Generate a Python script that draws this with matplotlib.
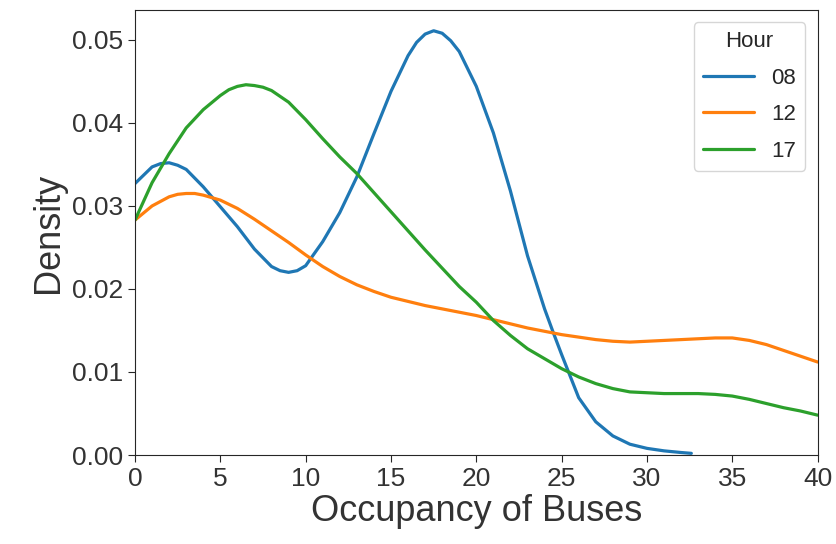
import matplotlib
matplotlib.use('Agg')
import matplotlib.pyplot as plt
import seaborn as sns

# Density curves (occupancy vs density)
hours = ['08', '12', '17']

occ_08 = [0, 1, 1.5, 2, 2.5, 3, 4, 5, 6, 7, 8, 8.5, 9, 9.5, 10, 11, 12, 13, 14, 15, 16,
          16.5, 17, 17.5, 18, 18.5, 19, 20, 21, 22, 23, 24, 24.5, 25, 25.5, 26, 27, 28, 29,
          30, 31, 32, 32.6]
dens_08 = [0.0327, 0.0347, 0.0351, 0.0352, 0.0349, 0.0344, 0.0323, 0.0299, 0.0275, 0.0248,
           0.0227, 0.0222, 0.0220, 0.0222, 0.0228, 0.0257, 0.0292, 0.0335, 0.0387, 0.0438,
           0.0481, 0.0497, 0.0507, 0.0511, 0.0508, 0.0499, 0.0486, 0.0444, 0.0388, 0.0318,
           0.0240, 0.0176, 0.0148, 0.0121, 0.0095, 0.0069, 0.0040, 0.0023, 0.0013, 0.0008,
           0.0005, 0.0003, 0.0002]

occ_12 = [0, 1, 2, 2.5, 3, 3.5, 4, 5, 6, 7, 8, 9, 10, 11, 12, 13, 14, 15, 16, 17, 18, 19,
          20, 21, 22, 23, 24, 25, 26, 27, 28, 29, 30, 31, 32, 33, 34, 35, 36, 37, 38, 39, 40]
dens_12 = [0.0283, 0.0300, 0.0311, 0.0314, 0.0315, 0.0315, 0.0313, 0.0307, 0.0297, 0.0284,
           0.0270, 0.0256, 0.0241, 0.0227, 0.0215, 0.0205, 0.0197, 0.0190, 0.0185, 0.0180,
           0.0176, 0.0172, 0.0168, 0.0163, 0.0158, 0.0153, 0.0149, 0.0145, 0.0142, 0.0139,
           0.0137, 0.0136, 0.0137, 0.0138, 0.0139, 0.0140, 0.0141, 0.0141, 0.0138, 0.0133,
           0.0126, 0.0119, 0.0112]

occ_17 = [0, 1, 2, 3, 4, 5, 5.5, 6, 6.5, 7, 7.5, 8, 9, 10, 11, 12, 13, 14, 15, 16, 17, 18,
          19, 20, 21, 22, 23, 24, 25, 26, 27, 28, 29, 30, 31, 32, 33, 34, 35, 36, 37, 38, 39,
          40]
dens_17 = [0.0283, 0.0328, 0.0363, 0.0394, 0.0416, 0.0433, 0.0440, 0.0444, 0.0446, 0.0445,
           0.0443, 0.0439, 0.0425, 0.0404, 0.0381, 0.0359, 0.0339, 0.0316, 0.0293, 0.0270,
           0.0247, 0.0225, 0.0203, 0.0184, 0.0162, 0.0144, 0.0128, 0.0116, 0.0104, 0.0094,
           0.0086, 0.0080, 0.0076, 0.0075, 0.0074, 0.0074, 0.0074, 0.0073, 0.0071, 0.0067,
           0.0062, 0.0057, 0.0053, 0.0048]

sns.set_style('ticks')
plt.rcParams['font.family'] = ['Liberation Sans', 'DejaVu Sans']

fig = plt.figure(figsize=(8.36, 5.44), dpi=100)
ax = fig.add_axes([0.1615, 0.1636, 0.8165, 0.818])

colors = ['#1f77b4', '#ff7f0e', '#2ca02c']
for hr, xs, ys, c in zip(hours, [occ_08, occ_12, occ_17],
                         [dens_08, dens_12, dens_17], colors):
    ax.plot(xs, ys, color=c, lw=2.3, label=hr, solid_joinstyle='round')

ax.set_xlim(0, 40)
ax.set_ylim(0, 0.0536)
ax.set_xticks(range(0, 41, 5))
ax.set_yticks([0.00, 0.01, 0.02, 0.03, 0.04, 0.05])
ax.set_yticklabels(['0.00', '0.01', '0.02', '0.03', '0.04', '0.05'])
ax.tick_params(labelsize=19, length=5, labelcolor='#333333')

ax.set_xlabel('Occupancy of Buses', fontsize=26, labelpad=2, color='#333333')
ax.set_ylabel('Density', fontsize=26, color='#333333')

leg = ax.legend(title='Hour', fontsize=16, title_fontsize=16, loc='upper right',
                handlelength=2.3, borderaxespad=0.55, labelspacing=0.7)

fig.savefig('out.png', dpi=100)
